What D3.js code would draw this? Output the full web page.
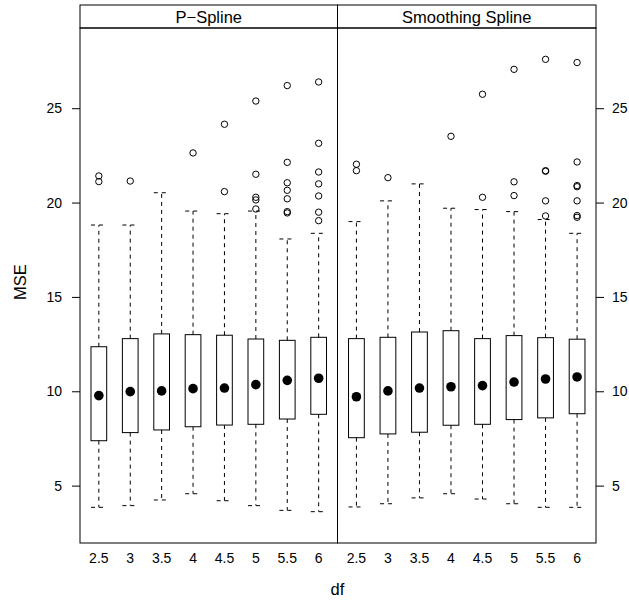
<!DOCTYPE html>
<html><head><meta charset="utf-8">
<script src="https://cdn.jsdelivr.net/npm/d3@7"></script>
<style>body{margin:0;background:#fff}svg{display:block}text{font-family:"Liberation Sans",Arial,sans-serif}</style>
</head><body><svg id="c" width="629" height="601"></svg>
<script>
const categories = ["2.5","3","3.5","4","4.5","5","5.5","6"];
const panels = ["P\u2212Spline","Smoothing Spline"];
const yTicks = [5,10,15,20,25];

// P-Spline
const psLow   = [3.85, 3.94, 4.24, 4.57, 4.20, 3.94, 3.69, 3.62];
const psQ1    = [7.38, 7.81, 7.95, 8.12, 8.21, 8.25, 8.53, 8.78];
const psMed   = [9.77, 9.98, 10.02, 10.14, 10.17, 10.35, 10.58, 10.69];
const psQ3    = [12.36, 12.79, 13.04, 13.00, 12.97, 12.77, 12.70, 12.86];
const psHigh  = [18.81, 18.81, 20.52, 19.55, 19.41, 19.55, 18.07, 18.37];
const psOut   = [[21.41, 21.11],[21.14],[],[22.63],[24.15, 20.58],[25.38, 21.50, 20.28, 20.14, 19.66],[26.20, 22.13, 21.05, 20.65, 20.20, 19.52, 19.45],[26.39, 23.14, 21.62, 20.99, 20.35, 19.49, 19.04]];

// Smoothing Spline
const ssLow   = [3.87, 4.04, 4.35, 4.57, 4.29, 4.04, 3.85, 3.85];
const ssQ1    = [7.54, 7.74, 7.83, 8.20, 8.25, 8.50, 8.59, 8.81];
const ssMed   = [9.71, 10.02, 10.17, 10.24, 10.30, 10.49, 10.65, 10.76];
const ssQ3    = [12.79, 12.86, 13.14, 13.21, 12.79, 12.95, 12.84, 12.76];
const ssHigh  = [18.99, 20.09, 20.99, 19.70, 19.63, 19.52, 19.10, 18.37];
const ssOut   = [[22.03, 21.69],[21.32],[],[23.51],[25.74, 20.28],[27.06, 21.10, 20.37],[27.59, 21.69, 21.66, 20.09, 19.29],[27.42, 22.15, 20.90, 20.84, 20.09, 19.31, 19.22]];

const svg = d3.select("#c");
const plotTop = 28, plotBottom = 543, stripTop = 5;
const panelX = [[80, 337.5],[337.5, 596]];
const y = d3.scaleLinear().domain([1.96, 29.25]).range([plotBottom, plotTop]);

const data = [
  {low: psLow, q1: psQ1, med: psMed, q3: psQ3, high: psHigh, out: psOut},
  {low: ssLow, q1: ssQ1, med: ssMed, q3: ssQ3, high: ssHigh, out: ssOut}
];

data.forEach((d, p) => {
  const [x0, x1] = panelX[p];
  const x = d3.scaleBand().domain(categories).range([x0, x1]).paddingInner(0).paddingOuter(0.1);
  const bw = x.bandwidth() * 0.5;
  const g = svg.append("g");
  // strip
  g.append("rect").attr("x", x0).attr("y", stripTop).attr("width", x1 - x0).attr("height", plotTop - stripTop)
    .attr("fill", "#fff").attr("stroke", "#000").attr("stroke-width", 1);
  g.append("text").attr("x", (x0 + x1) / 2).attr("y", 23).attr("text-anchor", "middle")
    .attr("font-size", 16.5).text(panels[p]);
  categories.forEach((c, i) => {
    const cx = x(c) + x.bandwidth() / 2;
    // whiskers
    g.append("line").attr("x1", cx).attr("x2", cx).attr("y1", y(d.q3[i])).attr("y2", y(d.high[i]))
      .attr("stroke", "#000").attr("stroke-dasharray", "4,4");
    g.append("line").attr("x1", cx).attr("x2", cx).attr("y1", y(d.q1[i])).attr("y2", y(d.low[i]))
      .attr("stroke", "#000").attr("stroke-dasharray", "4,4");
    g.append("line").attr("x1", cx - bw / 2).attr("x2", cx + bw / 2).attr("y1", y(d.high[i])).attr("y2", y(d.high[i]))
      .attr("stroke", "#000").attr("stroke-dasharray", "4,4");
    g.append("line").attr("x1", cx - bw / 2).attr("x2", cx + bw / 2).attr("y1", y(d.low[i])).attr("y2", y(d.low[i]))
      .attr("stroke", "#000").attr("stroke-dasharray", "4,4");
    // box
    g.append("rect").attr("x", cx - bw / 2).attr("y", y(d.q3[i])).attr("width", bw)
      .attr("height", y(d.q1[i]) - y(d.q3[i])).attr("fill", "none").attr("stroke", "#000");
    // median
    g.append("circle").attr("cx", cx).attr("cy", y(d.med[i])).attr("r", 4.8).attr("fill", "#000");
    // outliers
    d.out[i].forEach(v => {
      g.append("circle").attr("cx", cx).attr("cy", y(v)).attr("r", 3.2)
        .attr("fill", "none").attr("stroke", "#000");
    });
    // x tick labels
    g.append("text").attr("x", cx).attr("y", 563).attr("text-anchor", "middle").attr("font-size", 14).text(c);
  });
  // panel border
  g.append("rect").attr("x", x0).attr("y", plotTop).attr("width", x1 - x0).attr("height", plotBottom - plotTop)
    .attr("fill", "none").attr("stroke", "#000");
});

// left axis
const yl = svg.append("g").attr("transform", `translate(${panelX[0][0]},0)`)
  .call(d3.axisLeft(y).tickValues(yTicks).tickSize(8).tickPadding(10).tickFormat(d3.format("d")));
yl.select(".domain").remove();
yl.selectAll("text").attr("font-size", 14).attr("font-family", "Liberation Sans, Arial, sans-serif");
// right axis
const yr = svg.append("g").attr("transform", `translate(${panelX[1][1]},0)`)
  .call(d3.axisRight(y).tickValues(yTicks).tickSize(8).tickPadding(8).tickFormat(d3.format("d")));
yr.select(".domain").remove();
yr.selectAll("text").attr("font-size", 14).attr("font-family", "Liberation Sans, Arial, sans-serif");

// axis titles
svg.append("text").attr("x", 337.5).attr("y", 595).attr("text-anchor", "middle").attr("font-size", 16.5).text("df");
svg.append("text").attr("transform", "translate(26,282) rotate(-90)").attr("text-anchor", "middle")
  .attr("font-size", 16.5).text("MSE");
</script></body></html>
